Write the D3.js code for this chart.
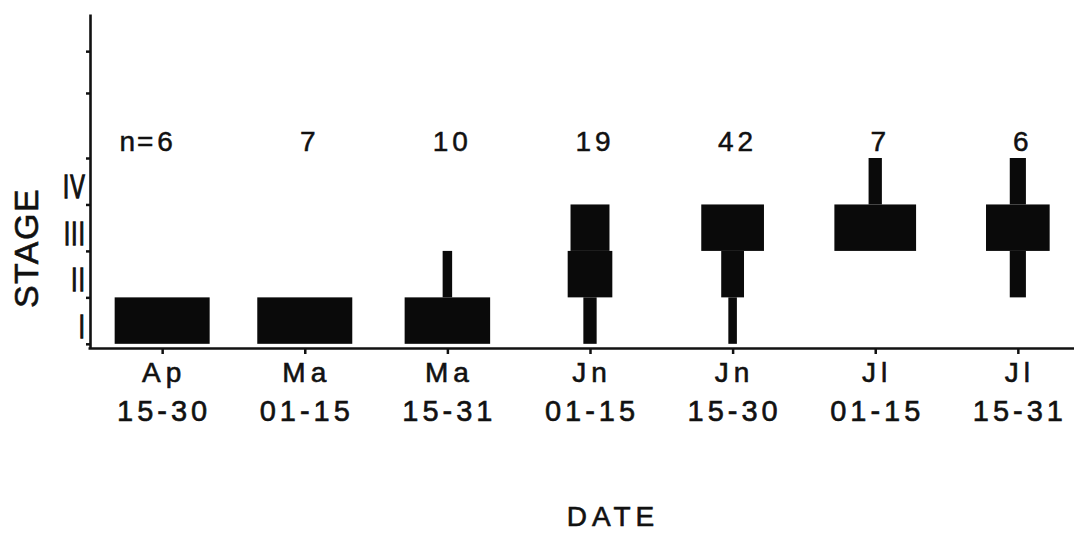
<!DOCTYPE html>
<html>
<head>
<meta charset="utf-8">
<script src="https://cdn.jsdelivr.net/npm/d3@7"></script>
<style>
  html, body { margin: 0; padding: 0; background: #fff; }
  svg { display: block; }
  text { font-family: "Liberation Sans", Arial, Helvetica, sans-serif; fill: #111; stroke: #111; }
</style>
</head>
<body>
<svg id="chart" width="1074" height="533"></svg>
<script>
// Sampling periods (two-line date labels)
const periods   = ["Ap 15-30", "Ma 01-15", "Ma 15-31", "Jn 01-15", "Jn 15-30", "Jl 01-15", "Jl 15-31"];
const monthLabels = ["Ap", "Ma", "Ma", "Jn", "Jn", "Jl", "Jl"];
const dayLabels   = ["15-30", "01-15", "15-31", "01-15", "15-30", "01-15", "15-31"];

// Sample size per period
const sampleN = [6, 7, 10, 19, 42, 7, 6];

// Percent of each sample at each developmental stage
const stageI   = [100, 100, 90, 14, 9, 0, 0];
const stageII  = [0, 0, 10, 47, 24, 0, 17];
const stageIII = [0, 0, 0, 41, 66, 86, 67];
const stageIV  = [0, 0, 0, 0, 0, 14, 17];

const stageNames = ["I", "II", "III", "IV"];
const stageTicks = [0, 1, 2, 3, 4, 5.4, 6.3];

const svg = d3.select("#chart");

const x = d3.scalePoint().domain(periods).range([88, 1092]).padding(0.52);
const y = d3.scaleLinear().domain([-0.09, 7.1]).range([348, 14]);
const w = d3.scaleLinear().domain([0, 100]).range([0, 95]);

const stageSeries = [stageI, stageII, stageIII, stageIV];

// Stage-width bars
const cells = [];
periods.forEach((p, i) => {
  stageSeries.forEach((s, k) => {
    if (s[i] > 0) cells.push({ period: p, stage: k, pct: s[i] });
  });
});

svg.append("g").selectAll("rect").data(cells).join("rect")
  .attr("x", d => x(d.period) - w(d.pct) / 2)
  .attr("y", d => y(d.stage + 1))
  .attr("width", d => w(d.pct))
  .attr("height", d => y(d.stage) - y(d.stage + 1))
  .attr("fill", "#0a0a0a");

// Axes
const yAxis = svg.append("g")
  .attr("transform", "translate(90,0)")
  .call(d3.axisLeft(y).tickValues(stageTicks).tickSize(4).tickSizeOuter(0).tickFormat(""));
const xAxis = svg.append("g")
  .attr("transform", "translate(0,348)")
  .call(d3.axisBottom(x).tickSize(6).tickSizeOuter(0).tickFormat(""));
[yAxis, xAxis].forEach(g => {
  g.select(".domain").attr("stroke", "#111").attr("stroke-width", 2.6);
  g.selectAll(".tick line").attr("stroke", "#111").attr("stroke-width", 2.5);
});

// Stage labels (condensed roman numerals)
svg.append("g").selectAll("g").data(stageNames).join("g")
  .attr("transform", (d, k) => `translate(86,${y(k + 0.5) + 17}) scale(0.64,1)`)
  .append("text")
  .attr("text-anchor", "end")
  .attr("font-size", 34)
  .attr("letter-spacing", 2)
  .attr("stroke-width", 1.4)
  .text(d => d);

// Sample sizes above the bars
const nLabels = svg.append("g").selectAll("text").data(periods).join("text")
  .attr("x", d => x(d) + 5)
  .attr("y", 151)
  .attr("text-anchor", "middle")
  .attr("font-size", 28)
  .attr("letter-spacing", 4)
  .attr("stroke-width", 0.5)
  .text((d, i) => sampleN[i]);
const firstW = nLabels.nodes()[0].getComputedTextLength();
svg.append("text")
  .attr("x", x(periods[0]) + 5 - firstW / 2 - 2)
  .attr("y", 151)
  .attr("text-anchor", "end")
  .attr("font-size", 28)
  .attr("letter-spacing", 2)
  .attr("stroke-width", 0.5)
  .text("n=");

// Date labels under the axis
const dl = svg.append("g").selectAll("g").data(periods).join("g")
  .attr("transform", d => `translate(${x(d) + 2},0)`);
dl.append("text")
  .attr("y", 382)
  .attr("text-anchor", "middle")
  .attr("font-size", 28)
  .attr("letter-spacing", 5)
  .attr("stroke-width", 0.6)
  .text((d, i) => monthLabels[i]);
dl.append("text")
  .attr("y", 421)
  .attr("text-anchor", "middle")
  .attr("font-size", 29)
  .attr("letter-spacing", 4)
  .attr("stroke-width", 0.6)
  .text((d, i) => dayLabels[i]);

// Axis titles
svg.append("text")
  .attr("transform", "translate(38,248) rotate(-90)")
  .attr("text-anchor", "middle")
  .attr("font-size", 34)
  .attr("letter-spacing", 1.5)
  .attr("stroke-width", 0.6)
  .text("STAGE");
svg.append("text")
  .attr("x", 613)
  .attr("y", 526)
  .attr("text-anchor", "middle")
  .attr("font-size", 28)
  .attr("letter-spacing", 5)
  .attr("stroke-width", 0.6)
  .text("DATE");
</script>
</body>
</html>
